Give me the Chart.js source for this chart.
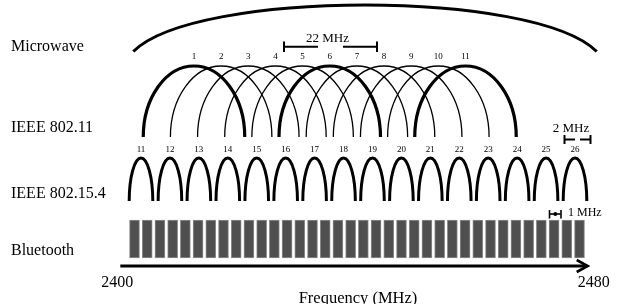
<!DOCTYPE html>
<html>
<head>
<meta charset="utf-8">
<script src="https://cdn.jsdelivr.net/npm/chart.js@4.4.1/dist/chart.umd.min.js"></script>
<style>
  html, body { margin: 0; padding: 0; background: #fff; }
  #wrap { width: 618px; height: 304px; }
</style>
</head>
<body>
<div id="wrap"><canvas id="bandChart" width="618" height="304"></canvas></div>
<script>
// Whole 2.4 GHz ISM band (MHz) and the two tick labels under the arrow
const ismBand = [2400, 2480];
const axisTicks = ['2400', '2480'];
const axisTitle = 'Frequency (MHz)';

// Row names down the left side
const rowNames = ['Microwave', 'IEEE 802.11', 'IEEE 802.15.4', 'Bluetooth'];

// IEEE 802.11 channels and their centre frequencies (MHz)
const wifiChannels = [1, 2, 3, 4, 5, 6, 7, 8, 9, 10, 11];
const wifiCenters = [2412, 2417, 2422, 2427, 2432, 2437, 2442, 2447, 2452, 2457, 2462];
const wifiNonOverlap = [1, 6, 11];

// IEEE 802.15.4 channels and centre frequencies (MHz)
const zigbeeChannels = [11, 12, 13, 14, 15, 16, 17, 18, 19, 20, 21, 22, 23, 24, 25, 26];
const zigbeeCenters = [2405, 2410, 2415, 2420, 2425, 2430, 2435, 2440, 2445, 2450, 2455, 2460, 2465, 2470, 2475, 2480];

// Bluetooth channel slots as drawn in the figure
const btChannels = [0, 1, 2, 3, 4, 5, 6, 7, 8, 9, 10, 11, 12, 13, 14, 15, 16, 17,
                    18, 19, 20, 21, 22, 23, 24, 25, 26, 27, 28, 29, 30, 31, 32, 33, 34, 35];

// Annotation texts
const spanLabels = ['22 MHz', '2 MHz', '1 MHz'];

const SERIF = '"Liberation Serif", "Times New Roman", serif';

// each row is a schematic, so every row gets its own hidden x axis:
// value a lands on pixel pa, value b on pixel pb
function fitAxis(a, pa, b, pb) {
  const k = (pb - pa) / (b - a);
  return { type: 'linear', axis: 'x', display: false, offset: false,
           min: a - pa / k, max: a + (618 - pa) / k };
}

// row layout (y axis runs 0..304 top to bottom)
const ROW = {
  micro: { foot: 51.5, top: 5 },
  wifi: { foot: 137, top: 66, halfW: 50.75, label: 59.3 },
  zig: { foot: 201, top: 158, halfW: 11.8, label: 152 },
  bt: { top: 220, bottom: 258 },
  arrow: 266
};

const bandDrawings = {
  id: 'bandDrawings',
  afterDatasetsDraw(chart) {
    const { ctx, scales } = chart;
    const y = v => scales.y.getPixelForValue(v);
    ctx.save();
    ctx.strokeStyle = '#000';
    ctx.fillStyle = '#000';
    ctx.lineCap = 'butt';

    function arch(cx, halfW, topY, footY, lw) {
      ctx.lineWidth = lw;
      ctx.beginPath();
      ctx.ellipse(cx, footY, halfW, footY - topY, 0, Math.PI, 2 * Math.PI);
      ctx.stroke();
    }
    function seg(x0, y0, x1, y1, lw) {
      ctx.lineWidth = lw;
      ctx.beginPath();
      ctx.moveTo(x0, y0);
      ctx.lineTo(x1, y1);
      ctx.stroke();
    }
    function text(str, x, yy, size, align) {
      ctx.font = size + 'px ' + SERIF;
      ctx.textAlign = align || 'left';
      ctx.textBaseline = 'alphabetic';
      ctx.fillText(str, x, yy);
    }

    // microwave oven hump over the whole band
    const mx0 = scales.x.getPixelForValue(ismBand[0]);
    const mx1 = scales.x.getPixelForValue(ismBand[1]);
    const ctrl = ROW.micro.foot - (ROW.micro.foot - ROW.micro.top) / 0.75;
    ctx.lineWidth = 3;
    ctx.beginPath();
    ctx.moveTo(mx0, y(ROW.micro.foot));
    ctx.bezierCurveTo(mx0 + 62, y(ctrl), mx1 - 62, y(ctrl), mx1, y(ROW.micro.foot));
    ctx.stroke();

    // IEEE 802.11 arches
    wifiCenters.forEach((f, i) => {
      const cx = scales.xWifi.getPixelForValue(f);
      const wide = wifiNonOverlap.includes(wifiChannels[i]);
      arch(cx, ROW.wifi.halfW, y(ROW.wifi.top), y(ROW.wifi.foot), wide ? 3.2 : 1.3);
      text(String(wifiChannels[i]), cx, y(ROW.wifi.label), 9, 'center');
    });

    // IEEE 802.15.4 arches
    zigbeeCenters.forEach((f, i) => {
      const cx = scales.xZig.getPixelForValue(f);
      arch(cx, ROW.zig.halfW, y(ROW.zig.top), y(ROW.zig.foot), 3);
      text(String(zigbeeChannels[i]), cx, y(ROW.zig.label), 9, 'center');
    });

    // 22 MHz span marker
    seg(284, 46.7, 318, 46.7, 2);
    seg(343, 46.7, 377, 46.7, 2);
    seg(284, 41.5, 284, 52, 2);
    seg(377, 41.5, 377, 52, 2);
    text(spanLabels[0], 327.5, 41.5, 13, 'center');

    // 2 MHz span marker
    seg(564.5, 139.5, 575, 139.5, 2);
    seg(580, 139.5, 590.5, 139.5, 2);
    seg(564.5, 135, 564.5, 144, 2);
    seg(590.5, 135, 590.5, 144, 2);
    text(spanLabels[1], 571, 132, 13, 'center');

    // 1 MHz span marker
    seg(549.5, 210, 549.5, 218.5, 1.6);
    seg(561, 210, 561, 218.5, 1.6);
    seg(550, 214, 560.5, 214, 1.6);
    ctx.beginPath();
    ctx.arc(555.3, 214, 2, 0, 2 * Math.PI);
    ctx.fill();
    text(spanLabels[2], 568, 215.5, 12, 'left');

    // frequency arrow
    const ay = y(ROW.arrow);
    const ax0 = mx0 - 13;
    const ax1 = mx1 - 9;
    seg(ax0, ay, ax1 - 1, ay, 3);
    ctx.lineWidth = 2.6;
    ctx.beginPath();
    ctx.moveTo(ax1 - 11, ay - 6);
    ctx.lineTo(ax1, ay);
    ctx.lineTo(ax1 - 11, ay + 6);
    ctx.stroke();

    text(axisTicks[0], mx0 - 16, 287, 16, 'center');
    text(axisTicks[1], mx1 - 3, 287, 16, 'center');
    text(axisTitle, 358, 302.5, 16.5, 'center');

    // row names
    const nameBase = [50.5, 131.5, 198, 255];
    rowNames.forEach((n, i) => text(n, 11, y(nameBase[i]), 16, 'left'));

    ctx.restore();
  }
};

const chartEl = document.getElementById('bandChart');
const bandChart = new Chart(chartEl, {
  type: 'bar',
  data: {
    datasets: [{
      label: 'Bluetooth',
      xAxisID: 'xBt',
      yAxisID: 'y',
      data: btChannels.map(c => ({ x: c, y: [ROW.bt.top, ROW.bt.bottom] })),
      backgroundColor: '#4f4f4f',
      borderColor: '#8e8e8e',
      borderWidth: 1,
      borderSkipped: false,
      barThickness: 10,
      grouped: false
    }]
  },
  options: {
    responsive: false,
    animation: false,
    layout: { padding: 0 },
    scales: {
      x: fitAxis(ismBand[0], 133.3, ismBand[1], 596.7),
      xWifi: fitAxis(2412, 194, 2462, 465.5),
      xZig: fitAxis(2405, 141, 2480, 575),
      xBt: fitAxis(0, 134.5, 35, 579.5),
      y: { type: 'linear', display: false, min: 0, max: 304, reverse: true }
    },
    plugins: {
      legend: { display: false },
      tooltip: { enabled: false }
    }
  },
  plugins: [bandDrawings]
});
</script>
</body>
</html>
